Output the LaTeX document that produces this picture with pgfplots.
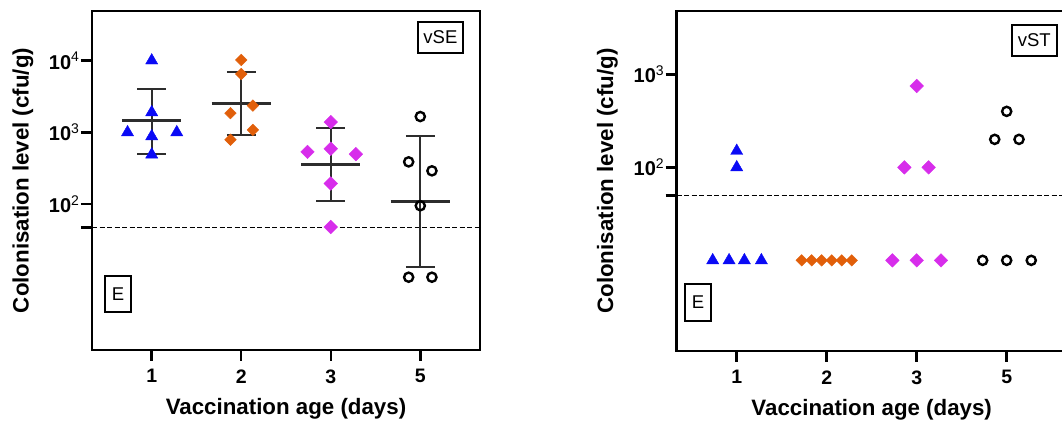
\documentclass[border=0pt]{standalone}
\usepackage{fontspec}
\setmainfont{Liberation Sans}
\usepackage{pgfplots}
\usepackage{pgfplotstable}
\pgfplotsset{compat=1.18}

\definecolor{cblue}{RGB}{10,10,245}
\definecolor{corange}{RGB}{225,95,10}
\definecolor{cmag}{RGB}{215,45,235}
\definecolor{cbar}{RGB}{45,45,45}

% vSE panel, one table per day (x shifted to the dot positions)
\pgfplotstableread{
x y
1 10000
1 1900
0.73 1000
1.28 1000
1 880
1 490
}\seA
\pgfplotstableread{
x y
2 10200
2 6500
1.88 1850
2.13 2360
2.13 1080
1.88 790
}\seB
\pgfplotstableread{
x y
3 1390
2.74 535
3 590
3.28 497
3 194
3 48
}\seC
\pgfplotstableread{
x y
4 1660
3.87 388
4.13 291
4 95
3.87 9.6
4.13 9.6
}\seD
% geometric mean lines
\pgfplotstableread{
x y
0.67 1445
1.33 1445
nan nan
1.67 2550
2.33 2550
nan nan
2.67 360
3.33 360
nan nan
3.67 109
4.33 109
}\seMean
% SD whiskers with caps
\pgfplotstableread{
x y
1 490
1 4080
nan nan
0.84 4080
1.16 4080
nan nan
0.84 500
1.16 500
nan nan
2 920
2 6970
nan nan
1.84 6970
2.16 6970
nan nan
1.84 920
2.16 920
nan nan
3 111
3 1140
nan nan
2.84 1140
3.16 1140
nan nan
2.84 111
3.16 111
nan nan
4 13.5
4 893
nan nan
3.84 893
4.16 893
nan nan
3.84 13.5
4.16 13.5
}\seErr

% vST panel
\pgfplotstableread{
x y
1 150
1 100
0.733 10
0.915 10
1.085 10
1.274 10
}\stA
\pgfplotstableread{
x y
1.722 10
1.833 10
1.944 10
2.056 10
2.167 10
2.278 10
}\stB
\pgfplotstableread{
x y
3 750
2.863 100
3.133 100
2.73 10
3 10
3.27 10
}\stC
\pgfplotstableread{
x y
4 400
3.867 200
4.137 200
3.733 10
4 10
4.273 10
}\stD

\pgfplotsset{
  panel/.style={
    scale only axis,
    xmin=0.333, xmax=4.667,
    xtick={1,2,3,4}, xticklabels={1,2,3,5},
    xtick pos=lower, ytick pos=left,
    axis line style={line width=2.5pt},
    tick align=outside,
    major tick length=11pt,
    major tick style={line width=2.5pt, black},
    yminorticks=false,
    xticklabel style={font=\fontsize{19.5}{21}\selectfont\bfseries, yshift=-5pt},
    yticklabel style={font=\fontsize{20}{22}\selectfont\bfseries, xshift=2pt},
    label style={font=\fontsize{22.3}{24}\selectfont\bfseries},
    xlabel={Vaccination age (days)},
    ylabel={Colonisation level (cfu/g)},
    xlabel style={at={(axis description cs:0.5,-0.1726)}, anchor=center},
    ylabel style={at={(axis description cs:-0.178,0.5)}, anchor=center},
    clip=false,
    unbounded coords=jump,
  },
  limit/.style={black, line width=1.6pt, dash pattern=on 5pt off 2.5pt},
  tri/.style={only marks, mark=triangle*, mark size=7pt, color=cblue},
  dia/.style={only marks, mark=square*, mark size=4.1pt, color=corange,
    mark options={rotate=45}},
  dmag/.style={only marks, mark=square*, mark size=4.8pt, color=cmag,
    mark options={rotate=45}},
  circ/.style={only marks, mark=o, mark size=4.6pt, color=black,
    mark options={line width=2.4pt}},
}
\tikzset{
  tag/.style={draw, line width=2pt, font=\fontsize{18.5}{20}\selectfont,
    inner sep=0pt, anchor=center},
}

\begin{document}
\begin{tikzpicture}

\begin{semilogyaxis}[panel,
    at={(92pt,73pt)}, anchor=south west,
    width=388pt, height=339pt,
    ymin=0.93, ymax=49000,
    ytick={47,100,1000,10000},
    yticklabels={{},{10\textsuperscript{\mdseries 2}},{10\textsuperscript{\mdseries 3}},{10\textsuperscript{\mdseries 4}}},
]
\addplot[limit] coordinates {(0.333,47) (4.667,47)};
\addplot[cbar, line width=2pt] table {\seErr};
\addplot[cbar, line width=3pt] table {\seMean};
\addplot[tri] table {\seA};
\addplot[dia] table {\seB};
\addplot[dmag] table {\seC};
\addplot[circ] table {\seD};
\node[tag, minimum width=45pt, minimum height=31pt] at (rel axis cs:0.898,0.922) {vSE};
\node[tag, minimum width=26pt, minimum height=36pt] at (rel axis cs:0.067,0.165) {E};
\end{semilogyaxis}

\begin{semilogyaxis}[panel,
    at={(676.7pt,72pt)}, anchor=south west,
    width=390pt, height=340pt,
    ymin=1.06, ymax=4800,
    ytick={50,100,1000},
    yticklabels={{},{10\textsuperscript{\mdseries 2}},{10\textsuperscript{\mdseries 3}}},
]
\addplot[limit] coordinates {(0.333,50) (4.667,50)};
\addplot[tri] table {\stA};
\addplot[dia] table {\stB};
\addplot[dmag] table {\stC};
\addplot[circ] table {\stD};
\node[tag, minimum width=45pt, minimum height=31pt] at (rel axis cs:0.917,0.913) {vST};
\node[tag, minimum width=26pt, minimum height=37pt] at (rel axis cs:0.055,0.1435) {E};
\end{semilogyaxis}

\pgfresetboundingbox
\path[use as bounding box] (0,0) rectangle (1062pt,423pt);
\end{tikzpicture}
\end{document}
